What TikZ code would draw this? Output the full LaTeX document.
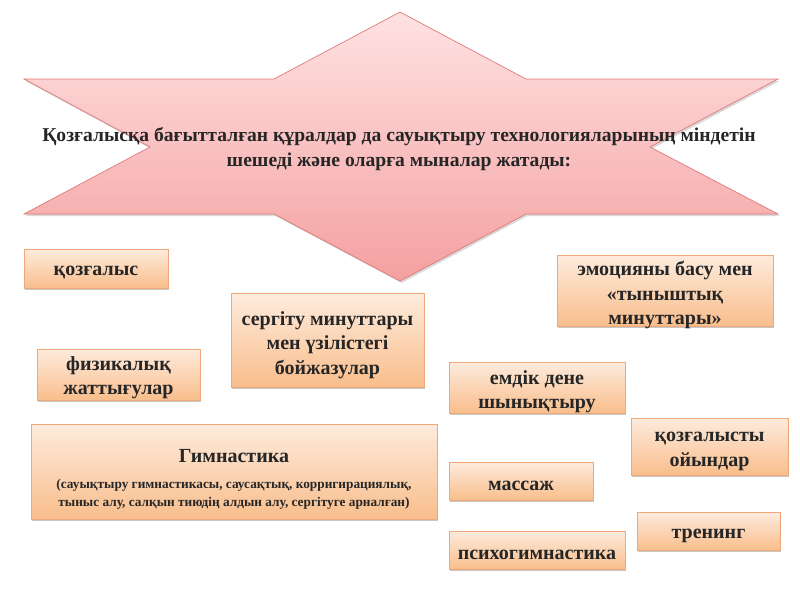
\documentclass[tikz,border=0pt]{standalone}
\usepackage{fontspec}
\setmainfont{Liberation Serif}
\usetikzlibrary{shadows}
\definecolor{boxtop}{HTML}{FDEBDD}
\definecolor{boxbot}{HTML}{F9BE8C}
\definecolor{boxline}{HTML}{F0A878}
\definecolor{startop}{HTML}{FFE2E2}
\definecolor{starbot}{HTML}{F4A0A0}
\definecolor{starline}{HTML}{DE7A7A}
\tikzset{
  obox/.style={draw=boxline, line width=0.7pt, top color=boxtop, bottom color=boxbot,
    inner sep=0pt,
    drop shadow={shadow xshift=1.2pt, shadow yshift=-2pt, fill=black, opacity=0.22}},
  otext/.style={align=center, inner sep=0pt, font=\bfseries\fontsize{20}{24.5}\selectfont,
    text=black!85},
  starshape/.style={draw=starline, line width=0.7pt, top color=startop, bottom color=starbot,
    drop shadow={shadow xshift=1.5pt, shadow yshift=-2pt, fill=black, opacity=0.15}},
}
\begin{document}
\begin{tikzpicture}[x=1pt,y=-1pt]
\useasboundingbox (0,0) rectangle (800,600);
\fill[white] (0,0) rectangle (800,600);
% star
\path[starshape] (400,12) -- (526,79) -- (778,79) -- (650,147) -- (778,214) -- (526,214)
  -- (400,281) -- (274,214) -- (24,214) -- (150,147) -- (24,79) -- (274,79) -- cycle;
\node[align=center, font=\bfseries\fontsize{19.6}{25}\selectfont, text=black!85] (title) at (399,149)
  {Қозғалысқа бағытталған құралдар да сауықтыру технологияларының міндетін\\
   шешеді және оларға мыналар жатады:};
% boxes
\node[obox, minimum width=144pt, minimum height=39pt] (koz) at (96,268.5) {};
\node[otext] (koz-t) at ([yshift=-4.5pt]koz.center) {қозғалыс};
\node[obox, minimum width=193pt, minimum height=94pt] (serg) at (327.5,340) {};
\node[otext] (serg-t) at ([yshift=-5pt]serg.center) {сергіту минуттары\\мен үзілістегі\\бойжазулар};
\node[obox, minimum width=163pt, minimum height=51pt] (fiz) at (118.5,374.5) {};
\node[otext] (fiz-t) at ([yshift=-3pt]fiz.center) {физикалық\\жаттығулар};
\node[obox, minimum width=406pt, minimum height=95pt] (gym) at (234,471.5) {};
\node[otext] (gym-t) at (234,456.5) {Гимнастика};
\node[otext, font=\bfseries\fontsize{13.3}{18}\selectfont] (gym-s) at (234,494)
  {(сауықтыру гимнастикасы, саусақтық, корригирациялық,\\
   тыныс алу, салқын тиюдің алдын алу, сергітуге арналған)};
\node[obox, minimum width=216pt, minimum height=71pt] (emo) at (665,290.5) {};
\node[otext] (emo-t) at ([yshift=-4.5pt]emo.center) {эмоцияны басу мен\\«тыныштық\\минуттары»};
\node[obox, minimum width=176pt, minimum height=51pt] (emdik) at (537,387.5) {};
\node[otext] (emdik-t) at ([yshift=-4pt]emdik.center) {емдік дене\\шынықтыру};
\node[obox, minimum width=157pt, minimum height=57pt] (oyin) at (709.5,446.5) {};
\node[otext] (oyin-t) at ([yshift=-5pt]oyin.center) {қозғалысты\\ойындар};
\node[obox, minimum width=144pt, minimum height=38pt] (mas) at (521,481) {};
\node[otext] (mas-t) at ([yshift=-4.5pt]mas.center) {массаж};
\node[obox, minimum width=143pt, minimum height=38pt] (tren) at (708.5,531) {};
\node[otext] (tren-t) at ([yshift=-4.5pt]tren.center) {тренинг};
\node[obox, minimum width=176pt, minimum height=38pt] (psi) at (537,550) {};
\node[otext] (psi-t) at ([yshift=-4.5pt]psi.center) {психогимнастика};
\end{tikzpicture}
\end{document}
